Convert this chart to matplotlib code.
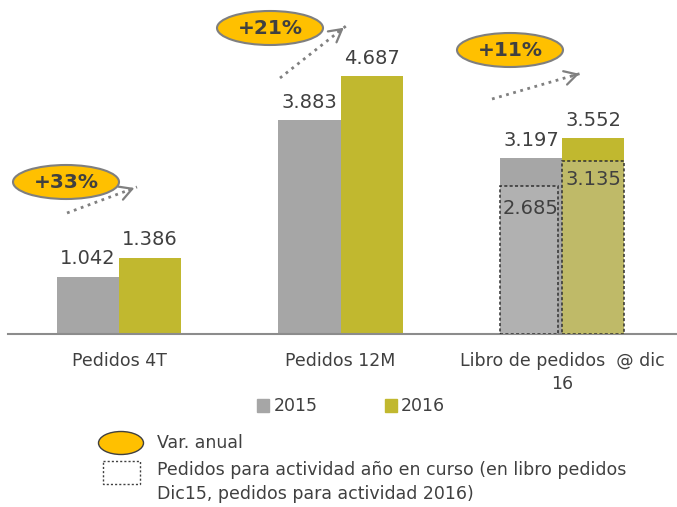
import matplotlib
matplotlib.use("Agg")
from matplotlib import pyplot as plt
from matplotlib.patches import Ellipse, Rectangle

categories = ["Pedidos 4T", "Pedidos 12M", "Libro de pedidos  @ dic\n16"]
val_2015 = [1.042, 3.883, 3.197]
val_2016 = [1.386, 4.687, 3.552]
# part of the order book for current-year activity (only last group)
curso_2015 = 2.685
curso_2016 = 3.135

gray = "#A6A6A6"
olive = "#C1B82F"
gray_in = "#B1B1B1"
olive_in = "#BFBA68"
txt = "#404040"

W, H = 677, 507
fig = plt.figure(figsize=(W / 100, H / 100), dpi=100)

# main bar axes, baseline at y=334 px
ax = fig.add_axes([8 / W, (H - 334) / H, (W - 8) / W, 334 / H])
x = list(range(len(categories)))
bw = 0.28
xg = [i - bw / 2 for i in x]
xo = [i + bw / 2 for i in x]
ax.bar(xg, val_2015, bw, color=gray, zorder=2)
ax.bar(xo, val_2016, bw, color=olive, zorder=2)

# dashed boxes inside the order book bars
ax.bar(xg[2] - 0.01, curso_2015, bw - 0.02, color=gray_in, edgecolor="#303030",
       linestyle=(0, (2, 1.5)), linewidth=1.1, zorder=3)
ax.bar(xo[2], curso_2016, bw, color=olive_in, edgecolor="#303030",
       linestyle=(0, (2, 1.5)), linewidth=1.1, zorder=3)

for i in x:
    ax.annotate(f"{val_2015[i]:.3f}", (xg[i], val_2015[i]), xytext=(0, 6),
                textcoords="offset points", ha="center", va="bottom",
                fontsize=14, color=txt)
    ax.annotate(f"{val_2016[i]:.3f}", (xo[i], val_2016[i]), xytext=(0, 6),
                textcoords="offset points", ha="center", va="bottom",
                fontsize=14, color=txt)
ax.annotate(f"{curso_2015:.3f}", (xg[2], curso_2015), xytext=(0, -9),
            textcoords="offset points", ha="center", va="top",
            fontsize=14, color=txt, zorder=4)
ax.annotate(f"{curso_2016:.3f}", (xo[2], curso_2016), xytext=(0, -6),
            textcoords="offset points", ha="center", va="top",
            fontsize=14, color=txt, zorder=4)

ax.set_xlim(-0.501, 2.519)
ax.set_ylim(0, 334 / 55.05)
ax.set_xticks(x)
ax.set_xticklabels(categories, fontsize=12.5, color=txt, linespacing=1.35)
ax.tick_params(axis="x", length=0, pad=13)
ax.set_yticks([])
for s in ["top", "left", "right"]:
    ax.spines[s].set_visible(False)
ax.spines["bottom"].set_color("#8C8C8C")
ax.spines["bottom"].set_linewidth(1.5)
ax.patch.set_alpha(0)

# overlay in pixel coordinates for callouts and legend
ov = fig.add_axes([0, 0, 1, 1])
ov.set_xlim(0, W)
ov.set_ylim(H, 0)
ov.axis("off")
ov.patch.set_alpha(0)

bubbles = [(66, 182), (270, 28), (510, 50)]
arrows = [((67, 213), (137, 187)), ((280, 78), (346, 26)), ((492, 99), (582, 73))]
for i in x:
    pct = round((val_2016[i] / val_2015[i] - 1) * 100)
    cx, cy = bubbles[i]
    ov.add_patch(Ellipse((cx, cy), 106, 34, facecolor="#FFC000",
                         edgecolor="#7F7F7F", linewidth=1.5))
    ov.text(cx, cy + 1, f"+{pct}%", ha="center", va="center", fontsize=14.5,
            fontweight="bold", color=txt)
    (x0, y0), (x1, y1) = arrows[i]
    ov.plot([x0, x1], [y0, y1], color="#808080", linestyle=":", linewidth=2)
    dx, dy = x1 - x0, y1 - y0
    ov.annotate("", xy=(x1, y1), xytext=(x1 - dx * 0.15, y1 - dy * 0.15),
                arrowprops=dict(arrowstyle="->,head_length=0.9,head_width=0.5",
                                color="#808080", lw=1.6))

# series legend
ov.add_patch(Rectangle((257, 399), 12, 13, color=gray))
ov.text(274, 406, "2015", ha="left", va="center", fontsize=12.5, color=txt)
ov.add_patch(Rectangle((385, 399), 12, 13, color=olive))
ov.text(401, 406, "2016", ha="left", va="center", fontsize=12.5, color=txt)

# shape legend
ov.add_patch(Ellipse((121, 443), 45, 23, facecolor="#FFC000",
                     edgecolor="#404040", linewidth=1))
ov.text(157, 443, "Var. anual", ha="left", va="center", fontsize=12.5, color=txt)
ov.add_patch(Rectangle((103, 461), 37, 23, fill=False, edgecolor="#404040",
                       linestyle=(0, (1.5, 1.5)), linewidth=1))
ov.text(157, 470, "Pedidos para actividad año en curso (en libro pedidos",
        ha="left", va="center", fontsize=12.5, color=txt)
ov.text(157, 494, "Dic15, pedidos para actividad 2016)",
        ha="left", va="center", fontsize=12.5, color=txt)

fig.savefig("out.png", dpi=100)
